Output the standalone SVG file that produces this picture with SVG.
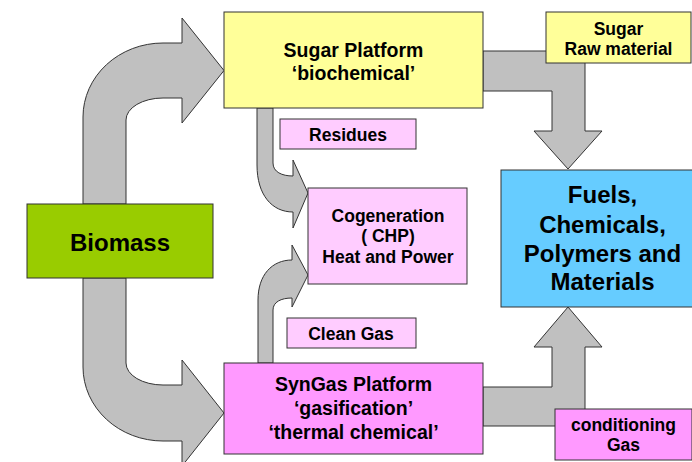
<svg xmlns="http://www.w3.org/2000/svg" width="692" height="462" viewBox="0 0 692 462">
<style>
.box{stroke:#333;stroke-width:1}
.arr{fill:#c0c0c0;stroke:#333;stroke-width:1;stroke-linejoin:miter}
text{font-family:"Liberation Sans",Arial,sans-serif;font-weight:bold;fill:#000;text-anchor:middle}
.sm{font-size:17.5px}
.md{font-size:19.5px}
.lg{font-size:24px}
</style>
<rect width="692" height="462" fill="#fff"/>
<g id="connectors">
<path class="arr" d="M83,204 L83,117 A80,74 0 0 1 163,43 L182,43 L182,18 L224,70.5 L182,123 L182,98 L163,98 A37,22 0 0 0 126,120 L126,204 Z"/>
<path class="arr" d="M83,278 L83,367 A80,74 0 0 0 163,441 L182,441 L182,466 L224,413 L182,360 L182,385 L163,385 A37,22 0 0 1 126,363 L126,278 Z"/>
<path class="arr" d="M257,108 L257,165 C257,195 272,212 293,212 L293,228 L308,193 L293,160 L293,176 C282,176 273,172 273,163 L273,108 Z"/>
<path class="arr" d="M258,363 L258,300 C258,275 272,260 292,260 L292,245 L308,275 L292,307 L292,298 C281,298 273,302 273,310 L273,363 Z"/>
<path class="arr" d="M483,51 L585,51 L585,131 L602,131 L568,169 L534,131 L552,131 L552,91 L483,91 Z"/>
<path class="arr" d="M483,426 L585,426 L585,347 L602,347 L568,307 L534,347 L552,347 L552,387 L483,387 Z"/>
</g>
<g id="biomass">
<rect class="box" x="27" y="204" width="186" height="74" fill="#99cc00"/>
<text class="lg" x="120" y="251">Biomass</text>
</g>
<g id="sugar-platform">
<rect class="box" x="224" y="12" width="259" height="96" fill="#ffff99"/>
<text class="md" x="353.5" y="56.5">Sugar Platform</text>
<text class="md" x="353.5" y="79.5">‘biochemical’</text>
</g>
<g id="syngas-platform">
<rect class="box" x="224" y="363" width="259" height="91" fill="#ff99ff"/>
<text class="md" x="353.5" y="391">SynGas Platform</text>
<text class="md" x="353.5" y="415">‘gasification’</text>
<text class="md" x="353.5" y="439">‘thermal chemical’</text>
</g>
<g id="residues">
<rect class="box" x="280" y="119" width="136" height="30" fill="#ffccff"/>
<text class="sm" x="348" y="141">Residues</text>
</g>
<g id="cogeneration">
<rect class="box" x="308" y="188" width="159" height="96" fill="#ffccff"/>
<text class="sm" x="388" y="221.5">Cogeneration</text>
<text class="sm" x="388" y="242">( CHP)</text>
<text class="sm" x="388" y="262.5">Heat and Power</text>
</g>
<g id="clean-gas">
<rect class="box" x="287" y="318" width="129" height="30" fill="#ffccff"/>
<text class="sm" x="351" y="339.5">Clean Gas</text>
</g>
<g id="sugar-raw-material">
<rect class="box" x="546" y="12" width="145" height="51" fill="#ffff99"/>
<text class="sm" x="618.5" y="34.5">Sugar</text>
<text class="sm" x="618.5" y="54.5">Raw material</text>
</g>
<g id="fuels">
<rect class="box" x="501" y="170" width="203" height="137" fill="#66ccff"/>
<text class="lg" x="602.5" y="203">Fuels,</text>
<text class="lg" x="602.5" y="233">Chemicals,</text>
<text class="lg" x="602.5" y="262">Polymers and</text>
<text class="lg" x="602.5" y="290">Materials</text>
</g>
<g id="conditioning-gas">
<rect class="box" x="555" y="409" width="137" height="51" fill="#ff99ff"/>
<text class="sm" x="623.5" y="430.5">conditioning</text>
<text class="sm" x="623.5" y="451">Gas</text>
</g>
</svg>
